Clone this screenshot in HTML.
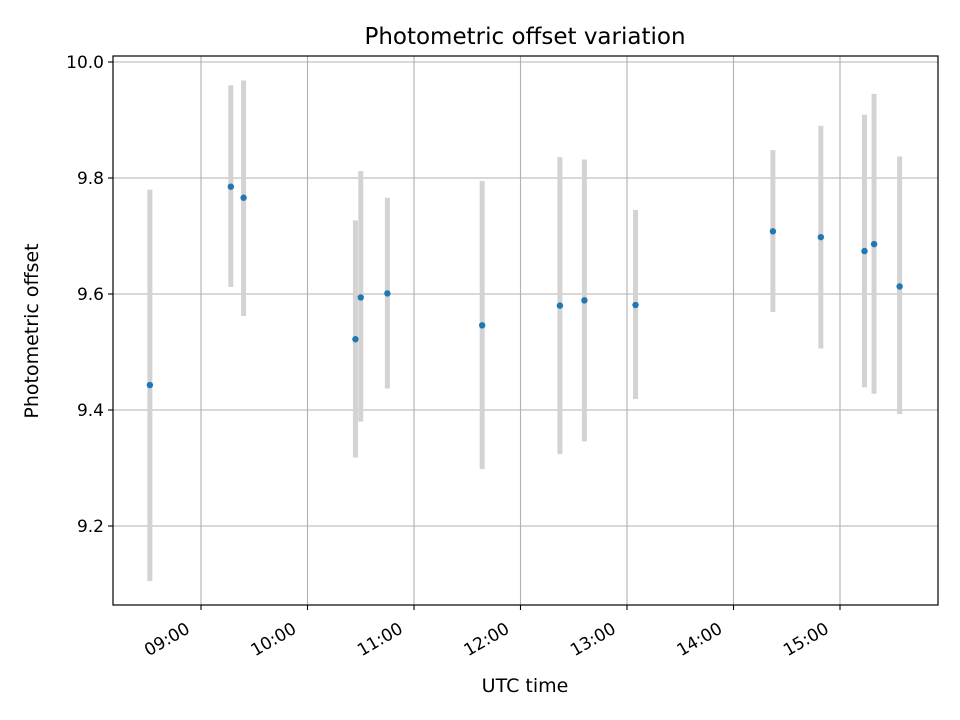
<!DOCTYPE html>
<html><head><meta charset="utf-8"><style>
body{margin:0;background:#fff;}
svg{display:block;font-family:"DejaVu Sans","Liberation Sans",sans-serif;}
</style></head><body>
<svg id="chart" width="960" height="720">
<rect width="960" height="720" fill="#fff"/>
<text x="525" y="44" font-size="23" text-anchor="middle" fill="#000">Photometric offset variation</text>
<text x="525" y="692" font-size="19" text-anchor="middle" fill="#000">UTC time</text>
<text transform="translate(38,331) rotate(-90)" font-size="19" text-anchor="middle" fill="#000">Photometric offset</text>
<g id="grid"></g><g id="bars"></g><g id="pts"></g><g id="axes"></g>
</svg>
<script>
const times=[8.52,9.28,9.40,10.45,10.50,10.75,11.64,12.37,12.60,13.08,14.37,14.82,15.23,15.32,15.56];
const values=[9.443,9.785,9.766,9.522,9.594,9.601,9.546,9.580,9.589,9.581,9.708,9.698,9.674,9.686,9.613];
const lows=[9.105,9.612,9.562,9.318,9.380,9.437,9.298,9.324,9.346,9.419,9.569,9.506,9.439,9.428,9.393];
const highs=[9.780,9.960,9.968,9.727,9.812,9.766,9.795,9.836,9.832,9.745,9.848,9.890,9.909,9.945,9.837];
const xTicks=[9,10,11,12,13,14,15];
const xTickLabels=["09:00","10:00","11:00","12:00","13:00","14:00","15:00"];
const yTicks=[9.2,9.4,9.6,9.8,10.0];
const yTickLabels=["9.2","9.4","9.6","9.8","10.0"];
const L=113,R=938,T=56,B=605;
const xs=h=>201+(h-9)*106.5;
const ys=v=>62+(10-v)*580;
const NS="http://www.w3.org/2000/svg";
function mk(p,tag,a){const e=document.createElementNS(NS,tag);for(const k in a)e.setAttribute(k,a[k]);document.getElementById(p).appendChild(e);return e;}
xTicks.forEach((t,i)=>{const x=xs(t);
 let g=mk('grid','line',{x1:x,x2:x,y1:T,y2:B,stroke:'#b0b0b0','stroke-width':1.1});
 
 
 let tk=mk('axes','line',{x1:x,x2:x,y1:B,y2:B+5,stroke:'#000','stroke-width':1.1});
 
 
 let tx=mk('axes','text',{transform:`translate(${x-10},${B+27}) rotate(-30)`,'font-size':17,'text-anchor':'end'});
 tx.textContent=xTickLabels[i];
 
 
});
yTicks.forEach((t,i)=>{const y=ys(t);
 let g=mk('grid','line',{x1:L,x2:R,y1:y,y2:y,stroke:'#b0b0b0','stroke-width':1.1});
 
 
 let tk=mk('axes','line',{x1:L-5,x2:L,y1:y,y2:y,stroke:'#000','stroke-width':1.1});
 
 
 let tx=mk('axes','text',{x:L-9,y:y+6,'font-size':17,'text-anchor':'end'});
 tx.textContent=yTickLabels[i];
 
 
});
let fr=mk('axes','rect',{x:L,y:T,width:R-L,height:B-T,fill:'none',stroke:'#000','stroke-width':1.2});


times.forEach((t,i)=>{const x=xs(t);
 let b=mk('bars','line',{x1:x,x2:x,y1:ys(highs[i]),y2:ys(lows[i]),stroke:'#d3d3d3','stroke-width':5});
 
 
 let c=mk('pts','circle',{cx:x,cy:ys(values[i]),r:3.2,fill:'#1f77b4'});
 
 
});
</script>
</body></html>
